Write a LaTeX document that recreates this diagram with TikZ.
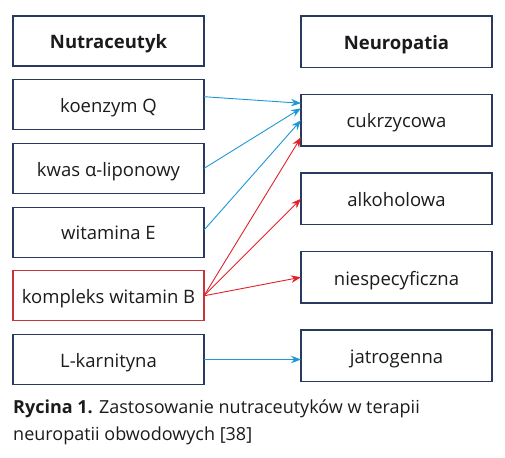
\documentclass[tikz,border=0pt]{standalone}
\usepackage{fontspec}
\setmainfont{Open Sans}
\usetikzlibrary{arrows.meta,positioning}
\definecolor{ink}{HTML}{1B1B1B}
\definecolor{frame}{HTML}{2A3A5E}
\definecolor{blue}{HTML}{1E98D4}
\definecolor{red}{HTML}{E02229}
\definecolor{redframe}{HTML}{C8343B}
\tikzset{
  every node/.style={text=ink,font=\fontsize{18.5}{22}\selectfont},
  item/.style={draw=frame,line width=1.1pt,minimum width=191pt,minimum height=50pt,inner sep=0pt,outer sep=0pt,
    text height=15.5pt,text depth=0pt,align=center},
  target/.style={item,minimum height=51.5pt},
  head/.style={item,font=\fontsize{18.5}{22}\selectfont\bfseries},
  vitbox/.style={item,draw=redframe},
  bluearr/.style={-{Stealth[length=10pt,width=7.5pt]},line width=0.9pt,draw=blue},
  redarr/.style={-{Stealth[length=10pt,width=7.5pt]},line width=0.9pt,draw=red},
  caption/.style={align=left,inner sep=0pt,font=\fontsize{18}{27}\selectfont},
}

\begin{document}
\begin{tikzpicture}[x=1pt,y=-1pt]
\useasboundingbox (0,0) rectangle (505,457);

% --- left column: nutraceuticals
\node[head,anchor=north west] (nutr) at (13,16) {Nutraceutyk};
\node[item,below=13.7pt of nutr] (coq) {koenzym Q};
\node[item,below=13.7pt of coq] (ala) {kwas α-liponowy};
\node[item,below=13.7pt of ala] (vite) {witamina E};
\node[vitbox,below=13.7pt of vite] (vitb) {kompleks witamin B};
\node[item,below=13.7pt of vitb] (carn) {L-karnityna};

% --- right column: neuropathies
\node[head,target,right=97pt of nutr.north east,anchor=north west] (neuro) {Neuropatia};
\node[target,below=27pt of neuro] (diab) {cukrzycowa};
\node[target,below=27pt of diab] (alco) {alkoholowa};
\node[target,below=27pt of alco] (nonspec) {niespecyficzna};
\node[target,below=27pt of nonspec] (iatro) {jatrogenna};

% --- connectors
\draw[bluearr] ([yshift=8pt]coq.east) -- ([yshift=17pt]diab.west);
\draw[bluearr] (ala.east) -- ([yshift=12pt]diab.west);
\draw[bluearr] ([yshift=2pt]vite.east) -- (diab.west);
\draw[redarr] (vitb.east) -- ([yshift=-17pt]diab.west);
\draw[redarr] (vitb.east) -- (alco.west);
\draw[redarr] (vitb.east) -- (nonspec.west);
\draw[bluearr] (carn.east) -- (carn.east -| iatro.west);

\node[caption,anchor=base west] (cap) at (13,440)
{\textbf{Rycina 1.} Zastosowanie nutraceutyków w terapii\\neuropatii obwodowych [38]};
\end{tikzpicture}
\end{document}
